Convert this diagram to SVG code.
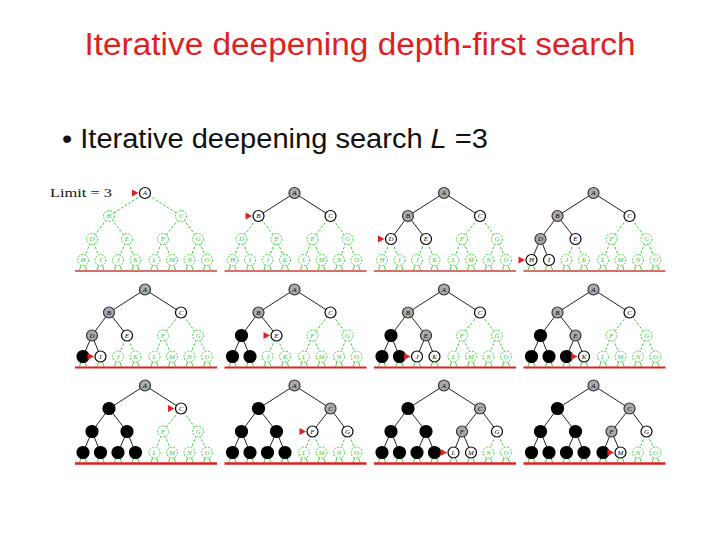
<svg xmlns="http://www.w3.org/2000/svg" xmlns:xlink="http://www.w3.org/1999/xlink" width="720" height="540" viewBox="0 0 720 540">
<style>
.title{font-family:"Liberation Sans",Arial,sans-serif;font-size:31px;fill:#e0201f}
.bul{font-family:"Liberation Sans",Arial,sans-serif;font-size:27px;fill:#111}
.lim{font-family:"Liberation Serif","Times New Roman",serif;font-size:13px;fill:#111}
.eb{fill:none;stroke:#222;stroke-width:1}
.eg{fill:none;stroke:#3c3;stroke-width:1;stroke-dasharray:2.5,1.8}
.stub{fill:none;stroke:#3c3;stroke-width:0.9}
.red1{stroke:#c8403a;stroke-width:1.6}
.red2{stroke:#e02020;stroke-width:1.8}
.red3{stroke:#e02020;stroke-width:2.4}
.mk{fill:#e02020}
circle{stroke-width:1.2}
.w circle{fill:#fff;stroke:#000}
.k circle{fill:#aaa;stroke:#333}
.b circle{fill:#000;stroke:#000}
.g circle{fill:#fff;stroke:#3c3;stroke-width:0.9;stroke-dasharray:2,1.3}
text.n{font-family:"Liberation Serif","Times New Roman",serif;font-style:italic;font-size:7px;text-anchor:middle;fill:#000}
.g text.n{fill:#3c3}
</style>
<defs>
<path id="stubs" class="stub" d="M-64,72.5L-65.5,77M-60,72.5L-58.5,77M-46.5,72.5L-48,77M-42.5,72.5L-41,77M-29,72.5L-30.5,77M-25,72.5L-23.5,77M-11.5,72.5L-13,77M-7.5,72.5L-6,77M7.5,72.5L6,77M11.5,72.5L13,77M25,72.5L23.5,77M29,72.5L30.5,77M42.5,72.5L41,77M46.5,72.5L48,77M60,72.5L58.5,77M64,72.5L65.5,77"/>
<polygon id="mk" class="mk" points="-13,-3.5 -13,3.5 -6.5,0"/>
</defs>
<rect width="720" height="540" fill="#fff"/>
<text class="title" x="360" y="55" text-anchor="middle" textLength="551" lengthAdjust="spacingAndGlyphs">Iterative deepening depth-first search</text>
<text class="bul" x="62" y="148" textLength="426" lengthAdjust="spacingAndGlyphs">• Iterative deepening search <tspan font-style="italic">L</tspan> =3</text>
<text class="lim" x="50" y="197" textLength="62" lengthAdjust="spacingAndGlyphs">Limit = 3</text>

<!-- Panel 1 -->
<g id="p1" transform="translate(145,193)">
<use xlink:href="#stubs"/>
<line class="red1" x1="-70" y1="78" x2="72" y2="78"/>
<g id="p1-edges">
<path class="eg" d="M0,0L-36,23M0,0L36,23M-36,23L-53,46M-36,23L-18,46M36,23L18,46M36,23L53,46M-53,46L-62,67M-53,46L-44.5,67M-18,46L-27,67M-18,46L-9.5,67M18,46L9.5,67M18,46L27,67M53,46L44.5,67M53,46L62,67"/>
</g>
<g id="p1-A" class="w"><circle r="5.5"/><text class="n" y="2.4">A</text></g>
<g id="p1-B" class="g" transform="translate(-36,23)"><circle r="5.5"/><text class="n" y="2.4">B</text></g>
<g id="p1-C" class="g" transform="translate(36,23)"><circle r="5.5"/><text class="n" y="2.4">C</text></g>
<g id="p1-D" class="g" transform="translate(-53,46)"><circle r="5.5"/><text class="n" y="2.4">D</text></g>
<g id="p1-E" class="g" transform="translate(-18,46)"><circle r="5.5"/><text class="n" y="2.4">E</text></g>
<g id="p1-F" class="g" transform="translate(18,46)"><circle r="5.5"/><text class="n" y="2.4">F</text></g>
<g id="p1-G" class="g" transform="translate(53,46)"><circle r="5.5"/><text class="n" y="2.4">G</text></g>
<g id="p1-H" class="g" transform="translate(-62,67)"><circle r="5.5"/><text class="n" y="2.4">H</text></g>
<g id="p1-I" class="g" transform="translate(-44.5,67)"><circle r="5.5"/><text class="n" y="2.4">I</text></g>
<g id="p1-J" class="g" transform="translate(-27,67)"><circle r="5.5"/><text class="n" y="2.4">J</text></g>
<g id="p1-K" class="g" transform="translate(-9.5,67)"><circle r="5.5"/><text class="n" y="2.4">K</text></g>
<g id="p1-L" class="g" transform="translate(9.5,67)"><circle r="5.5"/><text class="n" y="2.4">L</text></g>
<g id="p1-M" class="g" transform="translate(27,67)"><circle r="5.5"/><text class="n" y="2.4">M</text></g>
<g id="p1-N" class="g" transform="translate(44.5,67)"><circle r="5.5"/><text class="n" y="2.4">N</text></g>
<g id="p1-O" class="g" transform="translate(62,67)"><circle r="5.5"/><text class="n" y="2.4">O</text></g>
<use xlink:href="#mk" x="0" y="0"/>
</g>

<!-- Panel 2 -->
<g id="p2" transform="translate(294.5,193)">
<use xlink:href="#stubs"/>
<line class="red1" x1="-70" y1="78" x2="72" y2="78"/>
<g id="p2-edges">
<path class="eb" d="M0,0L-36,23M0,0L36,23"/>
<path class="eg" d="M-36,23L-53,46M-36,23L-18,46M36,23L18,46M36,23L53,46M-53,46L-62,67M-53,46L-44.5,67M-18,46L-27,67M-18,46L-9.5,67M18,46L9.5,67M18,46L27,67M53,46L44.5,67M53,46L62,67"/>
</g>
<g id="p2-A" class="k"><circle r="5.5"/><text class="n" y="2.4">A</text></g>
<g id="p2-B" class="w" transform="translate(-36,23)"><circle r="5.5"/><text class="n" y="2.4">B</text></g>
<g id="p2-C" class="w" transform="translate(36,23)"><circle r="5.5"/><text class="n" y="2.4">C</text></g>
<g id="p2-D" class="g" transform="translate(-53,46)"><circle r="5.5"/><text class="n" y="2.4">D</text></g>
<g id="p2-E" class="g" transform="translate(-18,46)"><circle r="5.5"/><text class="n" y="2.4">E</text></g>
<g id="p2-F" class="g" transform="translate(18,46)"><circle r="5.5"/><text class="n" y="2.4">F</text></g>
<g id="p2-G" class="g" transform="translate(53,46)"><circle r="5.5"/><text class="n" y="2.4">G</text></g>
<g id="p2-H" class="g" transform="translate(-62,67)"><circle r="5.5"/><text class="n" y="2.4">H</text></g>
<g id="p2-I" class="g" transform="translate(-44.5,67)"><circle r="5.5"/><text class="n" y="2.4">I</text></g>
<g id="p2-J" class="g" transform="translate(-27,67)"><circle r="5.5"/><text class="n" y="2.4">J</text></g>
<g id="p2-K" class="g" transform="translate(-9.5,67)"><circle r="5.5"/><text class="n" y="2.4">K</text></g>
<g id="p2-L" class="g" transform="translate(9.5,67)"><circle r="5.5"/><text class="n" y="2.4">L</text></g>
<g id="p2-M" class="g" transform="translate(27,67)"><circle r="5.5"/><text class="n" y="2.4">M</text></g>
<g id="p2-N" class="g" transform="translate(44.5,67)"><circle r="5.5"/><text class="n" y="2.4">N</text></g>
<g id="p2-O" class="g" transform="translate(62,67)"><circle r="5.5"/><text class="n" y="2.4">O</text></g>
<use xlink:href="#mk" x="-36" y="23"/>
</g>

<!-- Panel 3 -->
<g id="p3" transform="translate(444,193)">
<use xlink:href="#stubs"/>
<line class="red1" x1="-70" y1="78" x2="72" y2="78"/>
<g id="p3-edges">
<path class="eb" d="M0,0L-36,23M0,0L36,23M-36,23L-53,46M-36,23L-18,46"/>
<path class="eg" d="M36,23L18,46M36,23L53,46M-53,46L-62,67M-53,46L-44.5,67M-18,46L-27,67M-18,46L-9.5,67M18,46L9.5,67M18,46L27,67M53,46L44.5,67M53,46L62,67"/>
</g>
<g id="p3-A" class="k"><circle r="5.5"/><text class="n" y="2.4">A</text></g>
<g id="p3-B" class="k" transform="translate(-36,23)"><circle r="5.5"/><text class="n" y="2.4">B</text></g>
<g id="p3-C" class="w" transform="translate(36,23)"><circle r="5.5"/><text class="n" y="2.4">C</text></g>
<g id="p3-D" class="w" transform="translate(-53,46)"><circle r="5.5"/><text class="n" y="2.4">D</text></g>
<g id="p3-E" class="w" transform="translate(-18,46)"><circle r="5.5"/><text class="n" y="2.4">E</text></g>
<g id="p3-F" class="g" transform="translate(18,46)"><circle r="5.5"/><text class="n" y="2.4">F</text></g>
<g id="p3-G" class="g" transform="translate(53,46)"><circle r="5.5"/><text class="n" y="2.4">G</text></g>
<g id="p3-H" class="g" transform="translate(-62,67)"><circle r="5.5"/><text class="n" y="2.4">H</text></g>
<g id="p3-I" class="g" transform="translate(-44.5,67)"><circle r="5.5"/><text class="n" y="2.4">I</text></g>
<g id="p3-J" class="g" transform="translate(-27,67)"><circle r="5.5"/><text class="n" y="2.4">J</text></g>
<g id="p3-K" class="g" transform="translate(-9.5,67)"><circle r="5.5"/><text class="n" y="2.4">K</text></g>
<g id="p3-L" class="g" transform="translate(9.5,67)"><circle r="5.5"/><text class="n" y="2.4">L</text></g>
<g id="p3-M" class="g" transform="translate(27,67)"><circle r="5.5"/><text class="n" y="2.4">M</text></g>
<g id="p3-N" class="g" transform="translate(44.5,67)"><circle r="5.5"/><text class="n" y="2.4">N</text></g>
<g id="p3-O" class="g" transform="translate(62,67)"><circle r="5.5"/><text class="n" y="2.4">O</text></g>
<use xlink:href="#mk" x="-53" y="46"/>
</g>

<!-- Panel 4 -->
<g id="p4" transform="translate(593.5,193)">
<use xlink:href="#stubs"/>
<line class="red1" x1="-70" y1="78" x2="72" y2="78"/>
<g id="p4-edges">
<path class="eb" d="M0,0L-36,23M0,0L36,23M-36,23L-53,46M-36,23L-18,46M-53,46L-62,67M-53,46L-44.5,67"/>
<path class="eg" d="M36,23L18,46M36,23L53,46M-18,46L-27,67M-18,46L-9.5,67M18,46L9.5,67M18,46L27,67M53,46L44.5,67M53,46L62,67"/>
</g>
<g id="p4-A" class="k"><circle r="5.5"/><text class="n" y="2.4">A</text></g>
<g id="p4-B" class="k" transform="translate(-36,23)"><circle r="5.5"/><text class="n" y="2.4">B</text></g>
<g id="p4-C" class="w" transform="translate(36,23)"><circle r="5.5"/><text class="n" y="2.4">C</text></g>
<g id="p4-D" class="k" transform="translate(-53,46)"><circle r="5.5"/><text class="n" y="2.4">D</text></g>
<g id="p4-E" class="w" transform="translate(-18,46)"><circle r="5.5"/><text class="n" y="2.4">E</text></g>
<g id="p4-F" class="g" transform="translate(18,46)"><circle r="5.5"/><text class="n" y="2.4">F</text></g>
<g id="p4-G" class="g" transform="translate(53,46)"><circle r="5.5"/><text class="n" y="2.4">G</text></g>
<g id="p4-H" class="w" transform="translate(-62,67)"><circle r="5.5"/><text class="n" y="2.4">H</text></g>
<g id="p4-I" class="w" transform="translate(-44.5,67)"><circle r="5.5"/><text class="n" y="2.4">I</text></g>
<g id="p4-J" class="g" transform="translate(-27,67)"><circle r="5.5"/><text class="n" y="2.4">J</text></g>
<g id="p4-K" class="g" transform="translate(-9.5,67)"><circle r="5.5"/><text class="n" y="2.4">K</text></g>
<g id="p4-L" class="g" transform="translate(9.5,67)"><circle r="5.5"/><text class="n" y="2.4">L</text></g>
<g id="p4-M" class="g" transform="translate(27,67)"><circle r="5.5"/><text class="n" y="2.4">M</text></g>
<g id="p4-N" class="g" transform="translate(44.5,67)"><circle r="5.5"/><text class="n" y="2.4">N</text></g>
<g id="p4-O" class="g" transform="translate(62,67)"><circle r="5.5"/><text class="n" y="2.4">O</text></g>
<use xlink:href="#mk" x="-62" y="67"/>
</g>

<!-- Panel 5 -->
<g id="p5" transform="translate(145,289.5)">
<use xlink:href="#stubs"/>
<line class="red2" x1="-70" y1="78" x2="72" y2="78"/>
<g id="p5-edges">
<path class="eb" d="M0,0L-36,23M0,0L36,23M-36,23L-53,46M-36,23L-18,46M-53,46L-62,67M-53,46L-44.5,67"/>
<path class="eg" d="M36,23L18,46M36,23L53,46M-18,46L-27,67M-18,46L-9.5,67M18,46L9.5,67M18,46L27,67M53,46L44.5,67M53,46L62,67"/>
</g>
<g id="p5-A" class="k"><circle r="5.5"/><text class="n" y="2.4">A</text></g>
<g id="p5-B" class="k" transform="translate(-36,23)"><circle r="5.5"/><text class="n" y="2.4">B</text></g>
<g id="p5-C" class="w" transform="translate(36,23)"><circle r="5.5"/><text class="n" y="2.4">C</text></g>
<g id="p5-D" class="k" transform="translate(-53,46)"><circle r="5.5"/><text class="n" y="2.4">D</text></g>
<g id="p5-E" class="w" transform="translate(-18,46)"><circle r="5.5"/><text class="n" y="2.4">E</text></g>
<g id="p5-F" class="g" transform="translate(18,46)"><circle r="5.5"/><text class="n" y="2.4">F</text></g>
<g id="p5-G" class="g" transform="translate(53,46)"><circle r="5.5"/><text class="n" y="2.4">G</text></g>
<g id="p5-H" class="b" transform="translate(-62,67)"><circle r="6"/></g>
<g id="p5-I" class="w" transform="translate(-44.5,67)"><circle r="5.5"/><text class="n" y="2.4">I</text></g>
<g id="p5-J" class="g" transform="translate(-27,67)"><circle r="5.5"/><text class="n" y="2.4">J</text></g>
<g id="p5-K" class="g" transform="translate(-9.5,67)"><circle r="5.5"/><text class="n" y="2.4">K</text></g>
<g id="p5-L" class="g" transform="translate(9.5,67)"><circle r="5.5"/><text class="n" y="2.4">L</text></g>
<g id="p5-M" class="g" transform="translate(27,67)"><circle r="5.5"/><text class="n" y="2.4">M</text></g>
<g id="p5-N" class="g" transform="translate(44.5,67)"><circle r="5.5"/><text class="n" y="2.4">N</text></g>
<g id="p5-O" class="g" transform="translate(62,67)"><circle r="5.5"/><text class="n" y="2.4">O</text></g>
<use xlink:href="#mk" x="-44.5" y="67"/>
</g>

<!-- Panel 6 -->
<g id="p6" transform="translate(294.5,289.5)">
<use xlink:href="#stubs"/>
<line class="red2" x1="-70" y1="78" x2="72" y2="78"/>
<g id="p6-edges">
<path class="eb" d="M0,0L-36,23M0,0L36,23M-36,23L-53,46M-36,23L-18,46M-53,46L-62,67M-53,46L-44.5,67"/>
<path class="eg" d="M36,23L18,46M36,23L53,46M-18,46L-27,67M-18,46L-9.5,67M18,46L9.5,67M18,46L27,67M53,46L44.5,67M53,46L62,67"/>
</g>
<g id="p6-A" class="k"><circle r="5.5"/><text class="n" y="2.4">A</text></g>
<g id="p6-B" class="k" transform="translate(-36,23)"><circle r="5.5"/><text class="n" y="2.4">B</text></g>
<g id="p6-C" class="w" transform="translate(36,23)"><circle r="5.5"/><text class="n" y="2.4">C</text></g>
<g id="p6-D" class="b" transform="translate(-53,46)"><circle r="6"/></g>
<g id="p6-E" class="w" transform="translate(-18,46)"><circle r="5.5"/><text class="n" y="2.4">E</text></g>
<g id="p6-F" class="g" transform="translate(18,46)"><circle r="5.5"/><text class="n" y="2.4">F</text></g>
<g id="p6-G" class="g" transform="translate(53,46)"><circle r="5.5"/><text class="n" y="2.4">G</text></g>
<g id="p6-H" class="b" transform="translate(-62,67)"><circle r="6"/></g>
<g id="p6-I" class="b" transform="translate(-44.5,67)"><circle r="6"/></g>
<g id="p6-J" class="g" transform="translate(-27,67)"><circle r="5.5"/><text class="n" y="2.4">J</text></g>
<g id="p6-K" class="g" transform="translate(-9.5,67)"><circle r="5.5"/><text class="n" y="2.4">K</text></g>
<g id="p6-L" class="g" transform="translate(9.5,67)"><circle r="5.5"/><text class="n" y="2.4">L</text></g>
<g id="p6-M" class="g" transform="translate(27,67)"><circle r="5.5"/><text class="n" y="2.4">M</text></g>
<g id="p6-N" class="g" transform="translate(44.5,67)"><circle r="5.5"/><text class="n" y="2.4">N</text></g>
<g id="p6-O" class="g" transform="translate(62,67)"><circle r="5.5"/><text class="n" y="2.4">O</text></g>
<use xlink:href="#mk" x="-18" y="46"/>
</g>

<!-- Panel 7 -->
<g id="p7" transform="translate(444,289.5)">
<use xlink:href="#stubs"/>
<line class="red2" x1="-70" y1="78" x2="72" y2="78"/>
<g id="p7-edges">
<path class="eb" d="M0,0L-36,23M0,0L36,23M-36,23L-53,46M-36,23L-18,46M-53,46L-62,67M-53,46L-44.5,67M-18,46L-27,67M-18,46L-9.5,67"/>
<path class="eg" d="M36,23L18,46M36,23L53,46M18,46L9.5,67M18,46L27,67M53,46L44.5,67M53,46L62,67"/>
</g>
<g id="p7-A" class="k"><circle r="5.5"/><text class="n" y="2.4">A</text></g>
<g id="p7-B" class="k" transform="translate(-36,23)"><circle r="5.5"/><text class="n" y="2.4">B</text></g>
<g id="p7-C" class="w" transform="translate(36,23)"><circle r="5.5"/><text class="n" y="2.4">C</text></g>
<g id="p7-D" class="b" transform="translate(-53,46)"><circle r="6"/></g>
<g id="p7-E" class="k" transform="translate(-18,46)"><circle r="5.5"/><text class="n" y="2.4">E</text></g>
<g id="p7-F" class="g" transform="translate(18,46)"><circle r="5.5"/><text class="n" y="2.4">F</text></g>
<g id="p7-G" class="g" transform="translate(53,46)"><circle r="5.5"/><text class="n" y="2.4">G</text></g>
<g id="p7-H" class="b" transform="translate(-62,67)"><circle r="6"/></g>
<g id="p7-I" class="b" transform="translate(-44.5,67)"><circle r="6"/></g>
<g id="p7-J" class="w" transform="translate(-27,67)"><circle r="5.5"/><text class="n" y="2.4">J</text></g>
<g id="p7-K" class="w" transform="translate(-9.5,67)"><circle r="5.5"/><text class="n" y="2.4">K</text></g>
<g id="p7-L" class="g" transform="translate(9.5,67)"><circle r="5.5"/><text class="n" y="2.4">L</text></g>
<g id="p7-M" class="g" transform="translate(27,67)"><circle r="5.5"/><text class="n" y="2.4">M</text></g>
<g id="p7-N" class="g" transform="translate(44.5,67)"><circle r="5.5"/><text class="n" y="2.4">N</text></g>
<g id="p7-O" class="g" transform="translate(62,67)"><circle r="5.5"/><text class="n" y="2.4">O</text></g>
<use xlink:href="#mk" x="-27" y="67"/>
</g>

<!-- Panel 8 -->
<g id="p8" transform="translate(593.5,289.5)">
<use xlink:href="#stubs"/>
<line class="red2" x1="-70" y1="78" x2="72" y2="78"/>
<g id="p8-edges">
<path class="eb" d="M0,0L-36,23M0,0L36,23M-36,23L-53,46M-36,23L-18,46M-53,46L-62,67M-53,46L-44.5,67M-18,46L-27,67M-18,46L-9.5,67"/>
<path class="eg" d="M36,23L18,46M36,23L53,46M18,46L9.5,67M18,46L27,67M53,46L44.5,67M53,46L62,67"/>
</g>
<g id="p8-A" class="k"><circle r="5.5"/><text class="n" y="2.4">A</text></g>
<g id="p8-B" class="k" transform="translate(-36,23)"><circle r="5.5"/><text class="n" y="2.4">B</text></g>
<g id="p8-C" class="w" transform="translate(36,23)"><circle r="5.5"/><text class="n" y="2.4">C</text></g>
<g id="p8-D" class="b" transform="translate(-53,46)"><circle r="6"/></g>
<g id="p8-E" class="k" transform="translate(-18,46)"><circle r="5.5"/><text class="n" y="2.4">E</text></g>
<g id="p8-F" class="g" transform="translate(18,46)"><circle r="5.5"/><text class="n" y="2.4">F</text></g>
<g id="p8-G" class="g" transform="translate(53,46)"><circle r="5.5"/><text class="n" y="2.4">G</text></g>
<g id="p8-H" class="b" transform="translate(-62,67)"><circle r="6"/></g>
<g id="p8-I" class="b" transform="translate(-44.5,67)"><circle r="6"/></g>
<g id="p8-J" class="b" transform="translate(-27,67)"><circle r="6"/></g>
<g id="p8-K" class="w" transform="translate(-9.5,67)"><circle r="5.5"/><text class="n" y="2.4">K</text></g>
<g id="p8-L" class="g" transform="translate(9.5,67)"><circle r="5.5"/><text class="n" y="2.4">L</text></g>
<g id="p8-M" class="g" transform="translate(27,67)"><circle r="5.5"/><text class="n" y="2.4">M</text></g>
<g id="p8-N" class="g" transform="translate(44.5,67)"><circle r="5.5"/><text class="n" y="2.4">N</text></g>
<g id="p8-O" class="g" transform="translate(62,67)"><circle r="5.5"/><text class="n" y="2.4">O</text></g>
<use xlink:href="#mk" x="-9.5" y="67"/>
</g>

<!-- Panel 9 -->
<g id="p9" transform="translate(145,385.5)">
<use xlink:href="#stubs"/>
<line class="red3" x1="-70" y1="78" x2="72" y2="78"/>
<g id="p9-edges">
<path class="eb" d="M0,0L-36,23M0,0L36,23M-36,23L-53,46M-36,23L-18,46M-53,46L-62,67M-53,46L-44.5,67M-18,46L-27,67M-18,46L-9.5,67"/>
<path class="eg" d="M36,23L18,46M36,23L53,46M18,46L9.5,67M18,46L27,67M53,46L44.5,67M53,46L62,67"/>
</g>
<g id="p9-A" class="k"><circle r="5.5"/><text class="n" y="2.4">A</text></g>
<g id="p9-B" class="b" transform="translate(-36,23)"><circle r="6"/></g>
<g id="p9-C" class="w" transform="translate(36,23)"><circle r="5.5"/><text class="n" y="2.4">C</text></g>
<g id="p9-D" class="b" transform="translate(-53,46)"><circle r="6"/></g>
<g id="p9-E" class="b" transform="translate(-18,46)"><circle r="6"/></g>
<g id="p9-F" class="g" transform="translate(18,46)"><circle r="5.5"/><text class="n" y="2.4">F</text></g>
<g id="p9-G" class="g" transform="translate(53,46)"><circle r="5.5"/><text class="n" y="2.4">G</text></g>
<g id="p9-H" class="b" transform="translate(-62,67)"><circle r="6"/></g>
<g id="p9-I" class="b" transform="translate(-44.5,67)"><circle r="6"/></g>
<g id="p9-J" class="b" transform="translate(-27,67)"><circle r="6"/></g>
<g id="p9-K" class="b" transform="translate(-9.5,67)"><circle r="6"/></g>
<g id="p9-L" class="g" transform="translate(9.5,67)"><circle r="5.5"/><text class="n" y="2.4">L</text></g>
<g id="p9-M" class="g" transform="translate(27,67)"><circle r="5.5"/><text class="n" y="2.4">M</text></g>
<g id="p9-N" class="g" transform="translate(44.5,67)"><circle r="5.5"/><text class="n" y="2.4">N</text></g>
<g id="p9-O" class="g" transform="translate(62,67)"><circle r="5.5"/><text class="n" y="2.4">O</text></g>
<use xlink:href="#mk" x="36" y="23"/>
</g>

<!-- Panel 10 -->
<g id="p10" transform="translate(294.5,385.5)">
<use xlink:href="#stubs"/>
<line class="red3" x1="-70" y1="78" x2="72" y2="78"/>
<g id="p10-edges">
<path class="eb" d="M0,0L-36,23M0,0L36,23M-36,23L-53,46M-36,23L-18,46M-53,46L-62,67M-53,46L-44.5,67M-18,46L-27,67M-18,46L-9.5,67M36,23L18,46M36,23L53,46"/>
<path class="eg" d="M18,46L9.5,67M18,46L27,67M53,46L44.5,67M53,46L62,67"/>
</g>
<g id="p10-A" class="k"><circle r="5.5"/><text class="n" y="2.4">A</text></g>
<g id="p10-B" class="b" transform="translate(-36,23)"><circle r="6"/></g>
<g id="p10-C" class="k" transform="translate(36,23)"><circle r="5.5"/><text class="n" y="2.4">C</text></g>
<g id="p10-D" class="b" transform="translate(-53,46)"><circle r="6"/></g>
<g id="p10-E" class="b" transform="translate(-18,46)"><circle r="6"/></g>
<g id="p10-F" class="w" transform="translate(18,46)"><circle r="5.5"/><text class="n" y="2.4">F</text></g>
<g id="p10-G" class="w" transform="translate(53,46)"><circle r="5.5"/><text class="n" y="2.4">G</text></g>
<g id="p10-H" class="b" transform="translate(-62,67)"><circle r="6"/></g>
<g id="p10-I" class="b" transform="translate(-44.5,67)"><circle r="6"/></g>
<g id="p10-J" class="b" transform="translate(-27,67)"><circle r="6"/></g>
<g id="p10-K" class="b" transform="translate(-9.5,67)"><circle r="6"/></g>
<g id="p10-L" class="g" transform="translate(9.5,67)"><circle r="5.5"/><text class="n" y="2.4">L</text></g>
<g id="p10-M" class="g" transform="translate(27,67)"><circle r="5.5"/><text class="n" y="2.4">M</text></g>
<g id="p10-N" class="g" transform="translate(44.5,67)"><circle r="5.5"/><text class="n" y="2.4">N</text></g>
<g id="p10-O" class="g" transform="translate(62,67)"><circle r="5.5"/><text class="n" y="2.4">O</text></g>
<use xlink:href="#mk" x="18" y="46"/>
</g>

<!-- Panel 11 -->
<g id="p11" transform="translate(444,385.5)">
<use xlink:href="#stubs"/>
<line class="red3" x1="-70" y1="78" x2="72" y2="78"/>
<g id="p11-edges">
<path class="eb" d="M0,0L-36,23M0,0L36,23M-36,23L-53,46M-36,23L-18,46M-53,46L-62,67M-53,46L-44.5,67M-18,46L-27,67M-18,46L-9.5,67M36,23L18,46M36,23L53,46M18,46L9.5,67M18,46L27,67"/>
<path class="eg" d="M53,46L44.5,67M53,46L62,67"/>
</g>
<g id="p11-A" class="k"><circle r="5.5"/><text class="n" y="2.4">A</text></g>
<g id="p11-B" class="b" transform="translate(-36,23)"><circle r="6"/></g>
<g id="p11-C" class="k" transform="translate(36,23)"><circle r="5.5"/><text class="n" y="2.4">C</text></g>
<g id="p11-D" class="b" transform="translate(-53,46)"><circle r="6"/></g>
<g id="p11-E" class="b" transform="translate(-18,46)"><circle r="6"/></g>
<g id="p11-F" class="k" transform="translate(18,46)"><circle r="5.5"/><text class="n" y="2.4">F</text></g>
<g id="p11-G" class="w" transform="translate(53,46)"><circle r="5.5"/><text class="n" y="2.4">G</text></g>
<g id="p11-H" class="b" transform="translate(-62,67)"><circle r="6"/></g>
<g id="p11-I" class="b" transform="translate(-44.5,67)"><circle r="6"/></g>
<g id="p11-J" class="b" transform="translate(-27,67)"><circle r="6"/></g>
<g id="p11-K" class="b" transform="translate(-9.5,67)"><circle r="6"/></g>
<g id="p11-L" class="w" transform="translate(9.5,67)"><circle r="5.5"/><text class="n" y="2.4">L</text></g>
<g id="p11-M" class="w" transform="translate(27,67)"><circle r="5.5"/><text class="n" y="2.4">M</text></g>
<g id="p11-N" class="g" transform="translate(44.5,67)"><circle r="5.5"/><text class="n" y="2.4">N</text></g>
<g id="p11-O" class="g" transform="translate(62,67)"><circle r="5.5"/><text class="n" y="2.4">O</text></g>
<use xlink:href="#mk" x="9.5" y="67"/>
</g>

<!-- Panel 12 -->
<g id="p12" transform="translate(593.5,385.5)">
<use xlink:href="#stubs"/>
<line class="red3" x1="-70" y1="78" x2="72" y2="78"/>
<g id="p12-edges">
<path class="eb" d="M0,0L-36,23M0,0L36,23M-36,23L-53,46M-36,23L-18,46M-53,46L-62,67M-53,46L-44.5,67M-18,46L-27,67M-18,46L-9.5,67M36,23L18,46M36,23L53,46M18,46L9.5,67M18,46L27,67"/>
<path class="eg" d="M53,46L44.5,67M53,46L62,67"/>
</g>
<g id="p12-A" class="k"><circle r="5.5"/><text class="n" y="2.4">A</text></g>
<g id="p12-B" class="b" transform="translate(-36,23)"><circle r="6"/></g>
<g id="p12-C" class="k" transform="translate(36,23)"><circle r="5.5"/><text class="n" y="2.4">C</text></g>
<g id="p12-D" class="b" transform="translate(-53,46)"><circle r="6"/></g>
<g id="p12-E" class="b" transform="translate(-18,46)"><circle r="6"/></g>
<g id="p12-F" class="k" transform="translate(18,46)"><circle r="5.5"/><text class="n" y="2.4">F</text></g>
<g id="p12-G" class="w" transform="translate(53,46)"><circle r="5.5"/><text class="n" y="2.4">G</text></g>
<g id="p12-H" class="b" transform="translate(-62,67)"><circle r="6"/></g>
<g id="p12-I" class="b" transform="translate(-44.5,67)"><circle r="6"/></g>
<g id="p12-J" class="b" transform="translate(-27,67)"><circle r="6"/></g>
<g id="p12-K" class="b" transform="translate(-9.5,67)"><circle r="6"/></g>
<g id="p12-L" class="b" transform="translate(9.5,67)"><circle r="6"/></g>
<g id="p12-M" class="w" transform="translate(27,67)"><circle r="5.5"/><text class="n" y="2.4">M</text></g>
<g id="p12-N" class="g" transform="translate(44.5,67)"><circle r="5.5"/><text class="n" y="2.4">N</text></g>
<g id="p12-O" class="g" transform="translate(62,67)"><circle r="5.5"/><text class="n" y="2.4">O</text></g>
<use xlink:href="#mk" x="27" y="67"/>
</g>
</svg>
